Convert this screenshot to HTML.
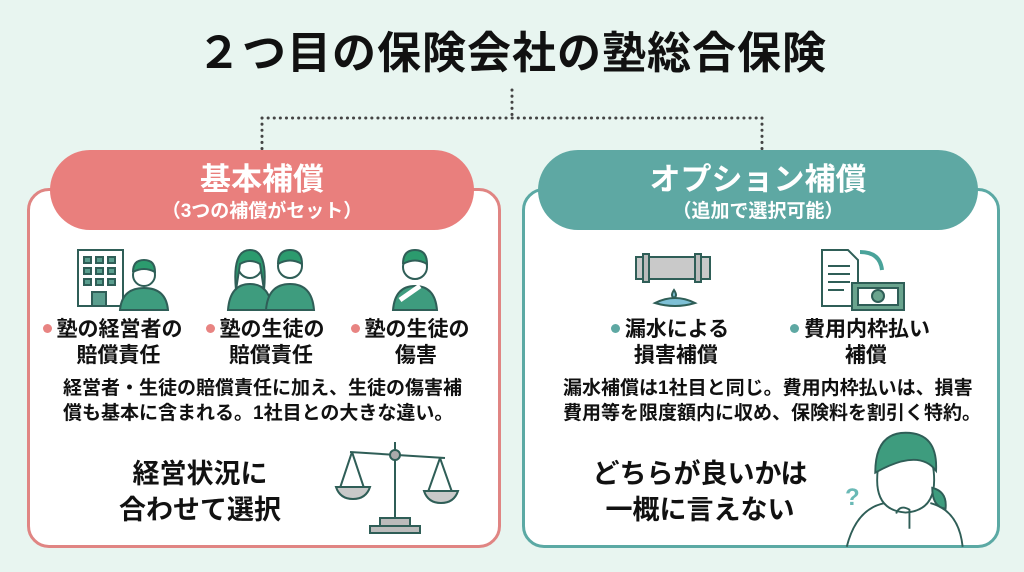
<!DOCTYPE html>
<html><head><meta charset="utf-8"><style>
*{margin:0;padding:0;box-sizing:border-box}
body{width:1024px;height:572px;background:#e8f5f0;font-family:"Liberation Sans","Noto Sans CJK JP",sans-serif;position:relative;overflow:hidden;color:#111}
.a{position:absolute}
.t{font-weight:bold;white-space:nowrap}
.box{position:absolute;background:#fff;border-radius:22px;border:3px solid}
.pill{position:absolute;border-radius:40px;color:#fff;text-align:center}
.lbl{position:absolute;font-weight:bold;font-size:21px;line-height:26px;text-align:center;white-space:nowrap}
.dot{display:inline-block;width:9px;height:9px;border-radius:50%;margin-right:5px;vertical-align:middle;position:relative;top:-2px}
</style></head><body>
<div class="a t" style="left:0;width:1024px;top:26px;text-align:center;font-size:44px;line-height:56px;letter-spacing:1px">２つ目の保険会社の塾総合保険</div>
<svg class="a" style="left:0;top:0" width="1024" height="572">
<g stroke="#444" stroke-width="3" stroke-dasharray="0.1 6" stroke-linecap="round" fill="none">
<path d="M512 90 V118 M262 118 H762 M262 118 V150 M762 118 V150"/>
</g></svg>

<div class="box" style="left:27px;top:188px;width:474px;height:360px;border-color:#e08583"></div>
<div class="pill" style="left:50px;top:150px;width:424px;height:80px;background:#e97f7d">
<div class="t" style="font-size:31px;line-height:40px;margin-top:10px">基本補償</div>
<div class="t" style="font-size:19px;line-height:24px">（3つの補償がセット）</div></div>

<div class="box" style="left:522px;top:188px;width:478px;height:360px;border-color:#5ba9a4"></div>
<div class="pill" style="left:538px;top:150px;width:440px;height:80px;background:#5ea8a3">
<div class="t" style="font-size:31px;line-height:40px;margin-top:10px">オプション補償</div>
<div class="t" style="font-size:19px;line-height:24px">（追加で選択可能）</div></div>

<svg class="a" style="left:0;top:0" width="1024" height="572">
<g stroke="#2f5e57" stroke-width="2" fill="none">
<rect x="78" y="250" width="45" height="56" fill="#fff"/>
<g fill="#5a9e8e"><rect x="84" y="257" width="7" height="6"/><rect x="96" y="257" width="7" height="6"/><rect x="108" y="257" width="7" height="6"/><rect x="84" y="268" width="7" height="6"/><rect x="96" y="268" width="7" height="6"/><rect x="108" y="268" width="7" height="6"/><rect x="84" y="279" width="7" height="6"/><rect x="96" y="279" width="7" height="6"/><rect x="108" y="279" width="7" height="6"/><rect x="92" y="292" width="14" height="14"/></g>
<path d="M120 310 q2-22 24-22 q22 0 24 22 z" fill="#3e9c7e"/><circle cx="144" cy="275" r="11" fill="#fff"/><path d="M133 272 q0-12 11-12 q11 0 11 12 q-11-6-22 0" fill="#2c9b6e"/>
<path d="M228 310 q2-26 22-26 q20 0 22 26z" fill="#3e9c7e"/><circle cx="250" cy="266" r="12" fill="#fff"/><path d="M236 290 q-4-40 14-40 q18 0 14 40 l-4 -26 q-10-6-20 0z" fill="#2c9b6e"/>
<path d="M266 310 q2-26 24-26 q22 0 24 26z" fill="#3e9c7e"/><circle cx="290" cy="266" r="12" fill="#fff"/><path d="M278 264 q0-14 12-14 q12 0 12 14 q-12-7-24 0" fill="#2c9b6e"/>
<path d="M393 310 q2-24 22-24 q20 0 22 24z" fill="#3e9c7e"/><circle cx="415" cy="267" r="12" fill="#fff"/><path d="M403 264 q0-14 12-14 q12 0 12 14 q-12-7-24 0" fill="#2c9b6e"/><path d="M400 300 l20-14" stroke="#fff" stroke-width="5"/>
<path d="M395 442 V518 M350 452 L445 458 M352 452 L340 488 M352 452 L364 488 M440 458 L428 492 M440 458 L452 492" stroke="#2f5e57"/>
<path d="M336 487 h34 q-4 12-17 12 q-13 0-17-12z M424 491 h34 q-4 12-17 12 q-13 0-17-12z" fill="#c9c9c9"/>
<circle cx="395" cy="455" r="5" fill="#aaa"/><rect x="380" y="518" width="30" height="8" fill="#bbb"/><rect x="370" y="526" width="50" height="7" fill="#bbb"/>
<rect x="636" y="257" width="74" height="22" fill="#c9c9c9"/><rect x="643" y="254" width="6" height="28" fill="#bbb"/><rect x="695" y="254" width="6" height="28" fill="#bbb"/>
<path d="M655 303 q20-10 40 0 q-20 6-40 0z" fill="#7ec0d6"/><path d="M674 290 q-4 6 0 8 q4-2 0-8z" fill="#7ec0d6"/>
<path d="M822 250 h26 l10 10 v46 h-36z" fill="#fff"/><path d="M828 266h22M828 274h22M828 282h22M828 290h16"/>
<path d="M860 252 q20 0 22 18" stroke="#4aa39a" stroke-width="4"/><rect x="852" y="283" width="52" height="27" fill="#6aa48e"/><rect x="858" y="288" width="40" height="17" fill="#fff"/><circle cx="878" cy="296" r="6" fill="#6aa48e"/>
<g transform="translate(6,10) scale(0.95) translate(45,25)">
<path d="M840 540 q10-40 40-46 M928 494 q30 8 34 46" />
<path d="M872 470 q0-40 30-40 q30 0 30 40 q0 32-30 34 q-30-2-30-34z" fill="#fff"/>
<path d="M870 462 q0-42 32-42 q34 0 32 40 q-18-24-64 2z" fill="#3e9c7e"/><path d="M930 478 q16 4 14 22 q-14-2-14-22z" fill="#3e9c7e"/>
<path d="M892 505 q4-10 14 -4 v20" />
</g>
</g>
<text x="845" y="505" font-size="24" fill="#6ab9b6" font-weight="bold" font-family="Liberation Sans">?</text>
</svg>

<div class="lbl" style="left:30px;width:165px;top:317px"><span class="dot" style="background:#e88482"></span>塾の経営者の<br>&nbsp;&nbsp;賠償責任</div>
<div class="lbl" style="left:195px;width:140px;top:317px"><span class="dot" style="background:#e88482"></span>塾の生徒の<br>&nbsp;&nbsp;賠償責任</div>
<div class="lbl" style="left:340px;width:140px;top:317px"><span class="dot" style="background:#e88482"></span>塾の生徒の<br>&nbsp;&nbsp;傷害</div>
<div class="a t" style="left:63px;top:376px;font-size:19px;line-height:25px">経営者・生徒の賠償責任に加え、生徒の傷害補<br>償も基本に含まれる。1社目との大きな違い。</div>
<div class="a t" style="left:100px;width:200px;top:456px;text-align:center;font-size:27px;line-height:36px">経営状況に<br>合わせて選択</div>

<div class="lbl" style="left:595px;width:150px;top:317px"><span class="dot" style="background:#5ea8a3"></span>漏水による<br>&nbsp;&nbsp;損害補償</div>
<div class="lbl" style="left:780px;width:160px;top:317px"><span class="dot" style="background:#5ea8a3"></span>費用内枠払い<br>&nbsp;&nbsp;補償</div>
<div class="a t" style="left:563px;top:376px;font-size:19px;line-height:25px">漏水補償は1社目と同じ。費用内枠払いは、損害<br>費用等を限度額内に収め、保険料を割引く特約。</div>
<div class="a t" style="left:580px;width:240px;top:456px;text-align:center;font-size:27px;line-height:36px">どちらが良いかは<br>一概に言えない</div>
</body></html>
